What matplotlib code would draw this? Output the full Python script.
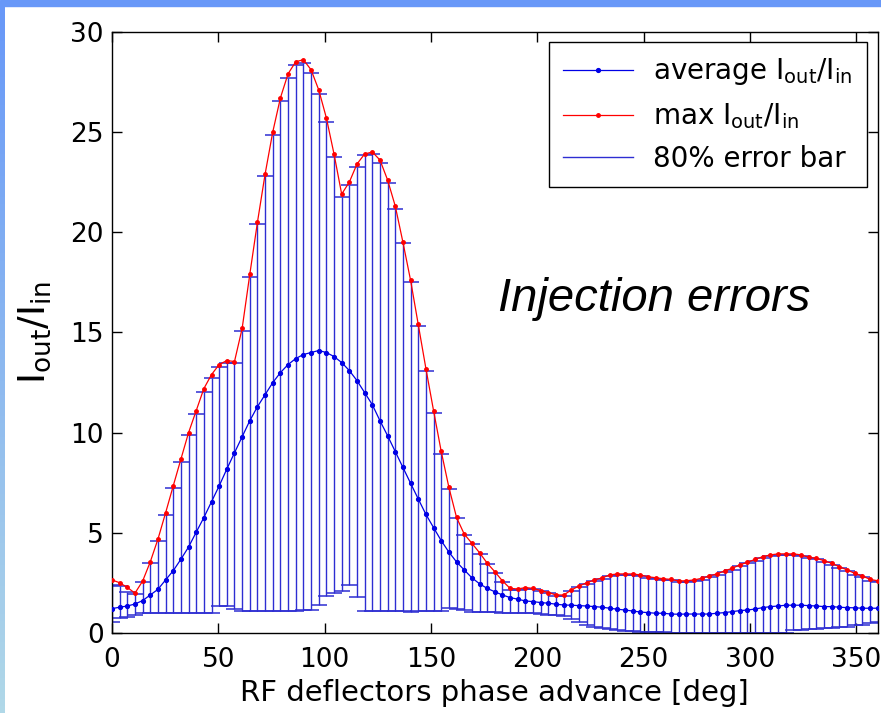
import numpy as np
import matplotlib
matplotlib.use("Agg")
import matplotlib.pyplot as plt
from matplotlib.patches import Rectangle
from matplotlib.lines import Line2D

# phase grid of the scan: 0..360 deg, 101 settings
phase = np.linspace(0, 360, 101)

max_ratio = [2.66, 2.52, 2.29, 2.00, 2.60, 3.56, 4.69, 6.00, 7.35, 8.68,
             10.0, 11.1, 12.2, 12.9, 13.4, 13.6, 13.55, 15.2, 17.9, 20.5,
             22.9, 25.0, 26.7, 27.9, 28.5, 28.6, 28.1, 27.1, 25.7, 23.9,
             21.9, 22.5, 23.4, 23.9, 24.0, 23.6, 22.6, 21.3, 19.5, 17.6,
             15.4, 13.2, 11.1, 9.07, 7.28, 5.78, 4.95, 4.49, 4.02, 3.50,
             3.07, 2.61, 2.24, 2.21, 2.28, 2.24, 2.13, 2.03, 1.91, 1.91,
             2.16, 2.36, 2.52, 2.66, 2.76, 2.91, 2.96, 2.96, 2.96, 2.91,
             2.82, 2.77, 2.72, 2.69, 2.61, 2.62, 2.66, 2.74, 2.86, 2.96,
             3.11, 3.24, 3.41, 3.54, 3.69, 3.82, 3.91, 3.96, 3.96, 3.96,
             3.91, 3.79, 3.74, 3.62, 3.49, 3.32, 3.16, 2.99, 2.86, 2.69,
             2.62]

avg_ratio = [1.23, 1.30, 1.36, 1.46, 1.63, 1.91, 2.19, 2.66, 3.12, 3.69,
             4.30, 5.04, 5.77, 6.56, 7.35, 8.19, 9.00, 9.80, 10.6, 11.3,
             11.9, 12.5, 13.0, 13.4, 13.7, 13.9, 14.0, 14.1, 14.0, 13.8,
             13.5, 13.1, 12.6, 12.0, 11.4, 10.6, 9.85, 9.06, 8.27, 7.48,
             6.70, 5.93, 5.27, 4.62, 4.05, 3.56, 3.16, 2.77, 2.47, 2.24,
             2.07, 1.91, 1.78, 1.70, 1.61, 1.58, 1.53, 1.50, 1.45, 1.41,
             1.40, 1.38, 1.36, 1.33, 1.30, 1.25, 1.20, 1.16, 1.11, 1.06,
             1.03, 1.00, 1.00, 0.96, 0.95, 0.96, 0.96, 0.96, 0.96, 1.00,
             1.03, 1.08, 1.13, 1.16, 1.21, 1.28, 1.33, 1.36, 1.40, 1.40,
             1.40, 1.38, 1.36, 1.33, 1.33, 1.30, 1.28, 1.27, 1.25, 1.25,
             1.25]

# 80% error bar limits
bar_hi = [2.40, 2.35, 2.07, 1.98, 2.55, 3.50, 4.60, 5.90, 7.25, 8.55,
          9.90, 10.95, 12.05, 12.75, 13.3, 13.5, 13.5, 15.05, 17.75, 20.4,
          22.8, 24.85, 26.55, 27.7, 28.35, 28.45, 27.95, 26.9, 25.5, 23.75,
          21.75, 22.35, 23.25, 23.85, 23.9, 23.45, 22.45, 21.15, 19.45, 17.5,
          15.3, 13.1, 11.0, 8.95, 7.20, 5.75, 4.90, 4.45, 3.97, 3.45,
          3.00, 2.55, 2.18, 2.15, 2.22, 2.20, 2.10, 1.99, 1.88, 1.88,
          2.10, 2.30, 2.46, 2.60, 2.70, 2.85, 2.90, 2.90, 2.90, 2.85,
          2.77, 2.72, 2.67, 2.64, 2.57, 2.57, 2.61, 2.68, 2.80, 2.90,
          3.05, 3.18, 3.35, 3.48, 3.62, 3.76, 3.85, 3.90, 3.90, 3.90,
          3.86, 3.73, 3.68, 3.56, 3.43, 3.26, 3.10, 2.93, 2.80, 2.63,
          2.56]

bar_lo = [0.55, 0.75, 0.80, 0.90, 1.00, 1.00, 1.00, 1.00, 1.00, 1.00,
          1.00, 1.00, 1.00, 1.02, 1.36, 1.36, 1.20, 1.13, 1.13, 1.13,
          1.13, 1.13, 1.13, 1.13, 1.13, 1.16, 1.16, 1.41, 1.88, 2.00,
          2.11, 2.41, 1.80, 1.13, 1.13, 1.12, 1.12, 1.10, 1.10, 1.08,
          1.10, 1.10, 1.10, 1.10, 1.25, 1.20, 1.16, 1.05, 1.05, 1.05,
          1.05, 1.03, 1.00, 1.00, 1.00, 1.00, 0.96, 0.93, 0.90, 0.85,
          0.70, 0.55, 0.42, 0.32, 0.25, 0.20, 0.16, 0.13, 0.10, 0.08,
          0.06, 0.05, 0.04, 0.03, 0.03, 0.03, 0.03, 0.03, 0.03, 0.03,
          0.03, 0.03, 0.03, 0.03, 0.03, 0.03, 0.03, 0.03, 0.03, 0.16,
          0.16, 0.22, 0.22, 0.27, 0.27, 0.33, 0.33, 0.40, 0.42, 0.53,
          0.55]

avg = np.array(avg_ratio)
err = [avg - np.array(bar_lo), np.array(bar_hi) - avg]

plt.rcParams['font.family'] = ['DejaVu Sans']

fig = plt.figure(figsize=(8.81, 7.13), dpi=100, facecolor='white')

# slide background bands
fig.patches.append(Rectangle((0, 1 - 6 / 713), 1, 6 / 713, transform=fig.transFigure,
                             color='#6898f8', zorder=0))
band = fig.add_axes([0, 0, 5 / 881, 1 - 6 / 713])
grad = np.linspace(0, 1, 100)[:, None, None]
top_c = np.array([104, 152, 248]) / 255
bot_c = np.array([176, 216, 232]) / 255
band.imshow(top_c * (1 - grad) + bot_c * grad, aspect='auto')
band.axis('off')

ax = fig.add_axes([0.1271, 0.1118, 0.8691, 0.8438])

bar_col = '#2e2ed2'
ax.errorbar(phase, avg, yerr=err, fmt='none', ecolor=bar_col, elinewidth=1.0,
            capsize=5.5, capthick=1.1, zorder=2)
l_max, = ax.plot(phase, max_ratio, '.-', color='#ff0000', lw=0.9, ms=5, zorder=3)
l_avg, = ax.plot(phase, avg_ratio, '.-', color='#0000e6', lw=0.9, ms=5.5, zorder=4)

ax.set_xlim(0, 360)
ax.set_ylim(0, 30)
ax.set_xticks(range(0, 351, 50))
ax.set_yticks(range(0, 31, 5))
ax.tick_params(direction='in', top=True, right=True, length=7, width=1,
               labelsize=19)
ax.tick_params(axis='x', pad=10)
ax.tick_params(axis='y', pad=6)
for s in ax.spines.values():
    s.set_linewidth(1.0)

ax.set_xlabel('RF deflectors phase advance [deg]', fontsize=21, labelpad=4)
ax.set_ylabel(r'$\mathregular{I_{out}/I_{in}}$', fontsize=27, labelpad=12)

ax.text(0.504, 0.535, 'Injection errors', transform=ax.transAxes,
        fontsize=34, style='italic', family=['Liberation Sans'],
        ha='left', va='baseline')

bar_proxy = Line2D([], [], color=bar_col, lw=1.0)
leg = ax.legend([l_avg, l_max, bar_proxy],
                [r'average $\mathregular{I_{out}/I_{in}}$',
                 r'max $\mathregular{I_{out}/I_{in}}$',
                 '80% error bar'],
                loc='upper right', bbox_to_anchor=(0.9856, 0.982),
                borderaxespad=0, fontsize=20, fancybox=False,
                edgecolor='black', framealpha=1, handlelength=2.5,
                handletextpad=0.75, borderpad=0.5, labelspacing=0.5)
leg.get_frame().set_linewidth(1.0)

fig.savefig('out.png', dpi=100, facecolor='white')
